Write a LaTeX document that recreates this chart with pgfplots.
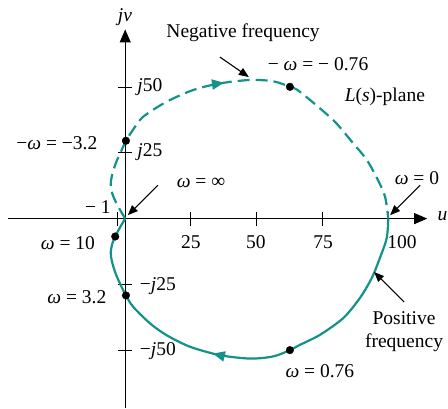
\documentclass[border=0pt]{standalone}
\usepackage{fontspec}
\setmainfont{Liberation Serif}
\usepackage{pgfplots}
\pgfplotsset{compat=1.18}
\usetikzlibrary{arrows.meta,decorations.markings}
\definecolor{nyq}{RGB}{18,146,136}

% positive frequency, omega from 0 to infinity
\pgfplotstableread{
u v
100 0
99.4 -7.4
96.8 -15
93.7 -22.6
89.2 -30.2
82.9 -37.8
74.0 -44.2
66.4 -48.0
62.6 -50.0
56.2 -52.4
47.4 -53.2
36.0 -51.9
24.6 -48.7
15.7 -44.3
9.4 -39.8
3.0 -33.5
0.27 -29.2
-1.6 -25.5
-3.6 -21
-5.0 -16.5
-5.5 -13
-4.9 -9.5
-3.8 -6.8
-1.9 -3.2
0 0
}\posfreq

% negative frequency, from -infinity to 0
\pgfplotstableread{
u v
0 0
-1.9 3.2
-3.8 6.8
-4.9 9.5
-5.5 13
-5.0 16.5
-3.6 21
-1.6 25.5
0.27 29.6
3.0 33.8
6.8 38.7
15.7 44.4
25.9 48.9
36.0 51.4
47.4 52.7
56.2 52.2
62.6 50.1
66.4 48.2
79.0 37.5
86.6 28.7
91.9 22.2
96.1 14.6
98.8 8.2
100 0
}\negfreq

\begin{document}
\begin{tikzpicture}[font=\rmfamily\fontsize{19.5bp}{23bp}\selectfont]
\begin{axis}[
  x=2.63bp, y=2.63bp,
  axis lines=middle,
  xmin=-44.6, xmax=114.8, ymin=-72, ymax=71.9,
  xtick={-3,25,50,75,100}, ytick={-50,-25,25,50},
  xticklabels={,,,,}, yticklabels={,,,},
  major tick length=14bp, tick align=center,
  tick style={black, line width=1bp},
  axis line style={black, line width=1bp},
  every inner x axis line/.append style={-{Triangle[length=13bp,width=11bp]}},
  every inner y axis line/.append style={-{Triangle[length=13bp,width=11bp]}},
  clip=false,
]
\addplot[nyq, line width=2.2bp, smooth, dash pattern=on 12bp off 6bp,
  postaction={decorate},
  decoration={markings, mark=at position 0.46 with {\arrow{Triangle[length=12bp,width=10bp]}}}]
  table[x=u, y=v] {\negfreq};
\addplot[nyq, line width=2.2bp, smooth,
  postaction={decorate},
  decoration={markings, mark=at position 0.57 with {\arrow{Triangle[length=12bp,width=10bp]}}}]
  table[x=u, y=v] {\posfreq};
\addplot[only marks, mark=*, mark size=3.8bp, black]
  coordinates {(62.6,50.1) (0.27,29.6) (-3.8,-6.8) (0.27,-29.2) (62.6,-50.0)};

% axis and tick labels
\node at (axis cs:-0.1,76.6) {\textit{jv}};
\node at (axis cs:120.6,1.0) {\textit{u}};
\node at (axis cs:25.0,-8.9) {25};
\node at (axis cs:49.7,-8.9) {50};
\node at (axis cs:75.2,-8.9) {75};
\node at (axis cs:105.2,-8.9) {100};
\node at (axis cs:-10.4,4.4) {− 1};
\node at (axis cs:9.4,50.0) {\textit{j}50};
\node at (axis cs:9.4,25.3) {\textit{j}25};
\node at (axis cs:12.4,-25.7) {−\textit{j}25};
\node at (axis cs:12.4,-50.4) {−\textit{j}50};

% annotations
\node at (axis cs:44.8,70.5) {Negative frequency};
\draw[-{Triangle[length=10bp,width=8bp]}, line width=1.1bp] (axis cs:36.0,61.4) -- (axis cs:47.0,53.8);
\node at (axis cs:73.3,58.7) {− \textit{ω} = − 0.76};
\node at (axis cs:98.7,46.2) {\textit{L}(\textit{s})-plane};
\node at (axis cs:110.9,15.4) {\textit{ω} = 0};
\draw[-{Triangle[length=10bp,width=8bp]}, line width=1.1bp] (axis cs:112.1,12.7) -- (axis cs:100.7,1.3);
\node at (axis cs:28.8,13.5) {\textit{ω} = ∞};
\draw[-{Triangle[length=10bp,width=8bp]}, line width=1.1bp] (axis cs:12.4,12.7) -- (axis cs:1.0,1.3);
\node at (axis cs:-26.0,28.7) {−\textit{ω} = −3.2};
\node at (axis cs:-21.8,-9.3) {\textit{ω} = 10};
\node at (axis cs:-18.4,-29.8) {\textit{ω} = 3.2};
\node[align=center, inner sep=0pt] at (axis cs:106.0,-42.8) {Positive\\frequency};
\draw[-{Triangle[length=10bp,width=8bp]}, line width=1.1bp] (axis cs:106.0,-31.7) -- (axis cs:94.6,-20.3);
\node at (axis cs:74.0,-58.0) {\textit{ω} = 0.76};

\coordinate (bbsw) at (axis cs:-47.6,-72.05);
\coordinate (bbne) at (axis cs:122.7,83.1);
\end{axis}
\pgfresetboundingbox
\path[use as bounding box] (bbsw) rectangle (bbne);
\end{tikzpicture}
\end{document}
